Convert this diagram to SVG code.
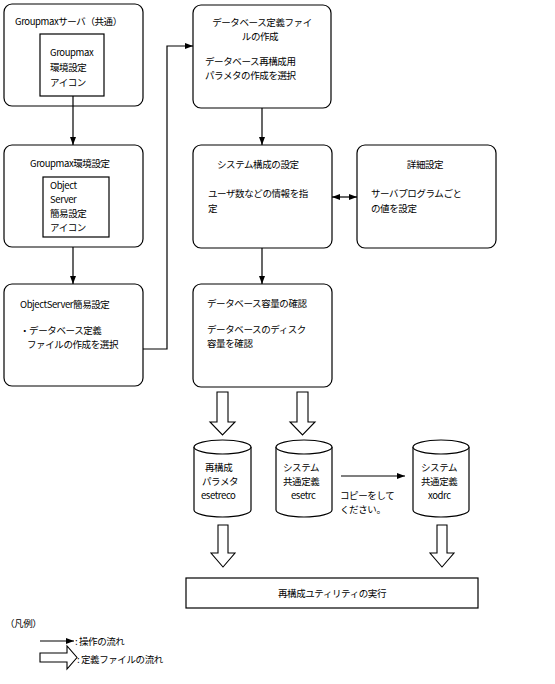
<svg xmlns="http://www.w3.org/2000/svg" width="555" height="684" viewBox="0 0 555 684">
<style>
.b{fill:#fff;stroke:#000;stroke-width:1.2}
.l{fill:none;stroke:#000;stroke-width:1.2}
.ba{fill:#fff;stroke:#000;stroke-width:1.1}
text{font-family:"Noto Sans CJK JP","DejaVu Sans",sans-serif;font-size:9.5px;fill:#000;letter-spacing:-0.4px}
.m{text-anchor:middle}
</style>
<defs>
<marker id="ah" markerUnits="userSpaceOnUse" markerWidth="9" markerHeight="7" refX="8" refY="3" orient="auto">
<path d="M0,0 L8,3 L0,6 z" fill="#000"/>
</marker>
<marker id="as" markerUnits="userSpaceOnUse" markerWidth="9" markerHeight="7" refX="0" refY="3" orient="auto">
<path d="M8,0 L0,3 L8,6 z" fill="#000"/>
</marker>
</defs>
<rect width="555" height="684" fill="#fff"/>

<g id="n1">
<rect class="b" x="4" y="4" width="139" height="102" rx="8"/>
<text x="15" y="25">Groupmaxサーバ（共通）</text>
<rect class="b" x="40" y="34" width="64" height="62"/>
<text x="50" y="56">Groupmax</text>
<text x="50" y="71">環境設定</text>
<text x="50" y="86">アイコン</text>
</g>

<g id="n2">
<rect class="b" x="4" y="145" width="139" height="102" rx="8"/>
<text x="30" y="167">Groupmax環境設定</text>
<rect class="b" x="43" y="177" width="66" height="60"/>
<text x="50" y="189">Object</text>
<text x="50" y="203">Server</text>
<text x="50" y="217">簡易設定</text>
<text x="50" y="231">アイコン</text>
</g>

<g id="n3">
<rect class="b" x="4" y="284" width="139" height="102" rx="8"/>
<text x="20" y="308">ObjectServer簡易設定</text>
<text x="20" y="334">・データベース定義</text>
<text x="27" y="348">ファイルの作成を選択</text>
</g>

<g id="n4">
<rect class="b" x="193" y="5" width="138" height="103" rx="8"/>
<text class="m" x="262" y="26">データベース定義ファイ</text>
<text class="m" x="260" y="40">ルの作成</text>
<text x="205" y="65">データベース再構成用</text>
<text x="205" y="79">パラメタの作成を選択</text>
</g>

<g id="n5">
<rect class="b" x="193" y="145" width="139" height="103" rx="8"/>
<text x="217" y="168">システム構成の設定</text>
<text x="208" y="197">ユーザ数などの情報を指</text>
<text x="208" y="212">定</text>
</g>

<g id="n6">
<rect class="b" x="357" y="145" width="139" height="103" rx="8"/>
<text class="m" x="425" y="168">詳細設定</text>
<text x="371" y="197">サーバプログラムごと</text>
<text x="371" y="212">の値を設定</text>
</g>

<g id="n7">
<rect class="b" x="193" y="284" width="139" height="103" rx="8"/>
<text x="207" y="307">データベース容量の確認</text>
<text x="207" y="333">データベースのディスク</text>
<text x="207" y="347">容量を確認</text>
</g>

<g id="c1">
<path class="b" d="M194,447 V510 A28.5,7 0 0 0 251,510 V447"/>
<ellipse class="b" cx="222.5" cy="447" rx="28.5" ry="7"/>
<text x="205" y="471">再構成</text>
<text x="202" y="485">パラメタ</text>
<text x="201" y="499">esetreco</text>
</g>

<g id="c2">
<path class="b" d="M276,447 V510 A28,7 0 0 0 332,510 V447"/>
<ellipse class="b" cx="304" cy="447" rx="28" ry="7"/>
<text x="283" y="471">システム</text>
<text x="283" y="485">共通定義</text>
<text x="291" y="499">esetrc</text>
</g>

<g id="c3">
<path class="b" d="M413,447 V510 A28,7 0 0 0 469,510 V447"/>
<ellipse class="b" cx="441" cy="447" rx="28" ry="7"/>
<text x="421" y="471">システム</text>
<text x="421" y="485">共通定義</text>
<text x="428" y="499">xodrc</text>
</g>

<g id="n8">
<rect class="b" x="186" y="578" width="292" height="30"/>
<text class="m" x="332" y="597">再構成ユティリティの実行</text>
</g>

<g id="connectors">
<line class="l" x1="73" y1="96" x2="73" y2="145" marker-end="url(#ah)"/>
<line class="l" x1="73" y1="247" x2="73" y2="284" marker-end="url(#ah)"/>
<polyline class="l" points="143,349 167,349 167,46 193,46" marker-end="url(#ah)"/>
<line class="l" x1="262" y1="108" x2="262" y2="145" marker-end="url(#ah)"/>
<line class="l" x1="332" y1="197" x2="357" y2="197" marker-start="url(#as)" marker-end="url(#ah)"/>
<line class="l" x1="262" y1="248" x2="262" y2="284" marker-end="url(#ah)"/>
<line class="l" x1="341" y1="476" x2="405" y2="476" marker-end="url(#ah)"/>
<path class="ba" d="M217,392 H228 V422 H235 L222.5,435 L210,422 H217 Z"/>
<path class="ba" d="M297,392 H308 V422 H315 L302.5,435 L290,422 H297 Z"/>
<path class="ba" d="M218,525 H228 V553 H235 L223,567 L211,553 H218 Z"/>
<path class="ba" d="M437,525 H447 V553 H454 L442,567 L430,553 H437 Z"/>
</g>

<g id="copytext">
<text x="340" y="499">コピーをして</text>
<text x="340" y="513">ください。</text>
</g>

<g id="legend">
<text x="5" y="627">（凡例）</text>
<line class="l" x1="40" y1="641" x2="74" y2="641" marker-end="url(#ah)"/>
<text x="75" y="645">: 操作の流れ</text>
<path class="ba" d="M40,653 H67 V646 L77,657.5 L67,669 V662 H40 Z"/>
<text x="77" y="663">: 定義ファイルの流れ</text>
</g>
</svg>
